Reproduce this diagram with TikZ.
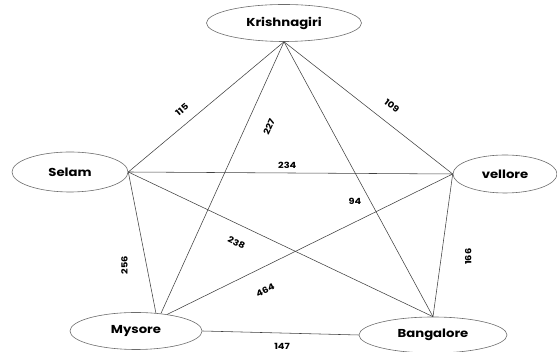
\documentclass[tikz,border=0pt]{standalone}
\usepackage{fontspec}
\newfontfamily\cityfont{Poppins}[FakeStretch=1.15]
\usetikzlibrary{shapes.geometric}

\begin{document}
\begin{tikzpicture}[x=1pt, y=1pt,
  city/.style={draw=gray!85!black, line width=0.6pt, ellipse,
    font=\cityfont\bfseries\fontsize{11.5}{13}\selectfont},
  dist/.style={font=\cityfont\bfseries\fontsize{8.5}{10}\selectfont, inner sep=1pt},
  road/.style={draw=black!75, line width=0.55pt}
]
  \useasboundingbox (0,0) rectangle (557,352);

  \node[city, minimum width=155pt, minimum height=37pt] (krish) at (284,329) {Krishnagiri};
  \node[city, minimum width=116pt, minimum height=40pt] (selam) at (70,180) {Selam};
  \node[city, minimum width=104pt, minimum height=38pt] (vel) at (505,178) {vellore};
  \node[city, minimum width=132pt, minimum height=37pt] (mys) at (136,21) {Mysore};
  \node[city, minimum width=148pt, minimum height=36pt] (blr) at (433,17) {Bangalore};

  \draw[road] (krish.south) -- node[dist, sloped, above=9pt, pos=.6] {115} (selam.east);
  \draw[road] (krish.south) -- node[dist, sloped, above=12pt, pos=.58] {109} (vel.west);
  \draw[road] (krish.south) -- node[dist, sloped, below=17pt, pos=.28] {227} (mys.35);
  \draw[road] (krish.south) -- node[dist, left=8pt, pos=.58] {94} (blr.north);
  \draw[road] (selam.east) -- node[dist, above=3pt, pos=.49] {234} (vel.west);
  \draw[road] (selam.east) -- node[dist, sloped, below=13pt, pos=.38] {238} (blr.north);
  \draw[road] (selam.east) -- node[dist, xshift=-22pt, rotate=90, pos=.66] {256} (mys.42);
  \draw[road] (vel.west) -- node[dist, sloped, below=17pt, pos=.69] {464} (mys.28);
  \draw[road] (vel.west) -- node[dist, xshift=27pt, rotate=90, pos=.58] {166} (blr.north);
  \draw[road] (mys.east) -- node[dist, below=9pt, pos=.51] {147} (blr.west);
\end{tikzpicture}
\end{document}
